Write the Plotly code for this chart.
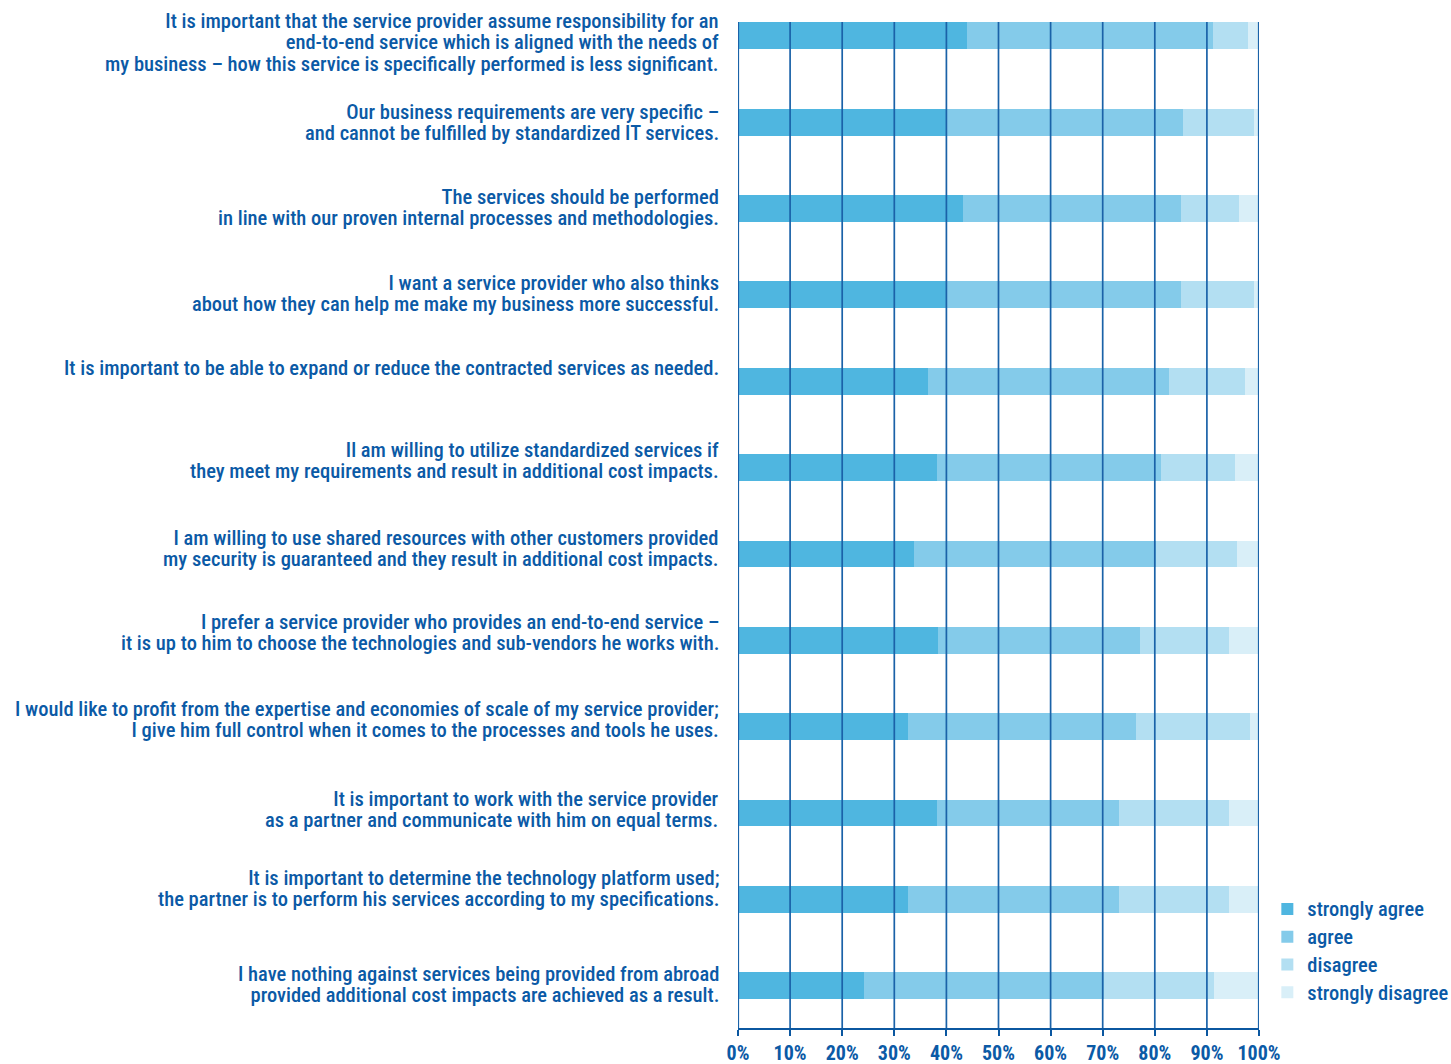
import plotly.graph_objects as go

categories = [
    "It is important that the service provider assume responsibility for an<br>end-to-end service which is aligned with the needs of<br>my business – how this service is specifically performed is less significant.",
    "Our business requirements are very specific –<br>and cannot be fulfilled by standardized IT services.",
    "The services should be performed<br>in line with our proven internal processes and methodologies.",
    "I want a service provider who also thinks<br>about how they can help me make my business more successful.",
    "It is important to be able to expand or reduce the contracted services as needed.",
    "Il am willing to utilize standardized services if<br>they meet my requirements and result in additional cost impacts.",
    "I am willing to use shared resources with other customers provided<br>my security is guaranteed and they result in additional cost impacts.",
    "I prefer a service provider who provides an end-to-end service –<br>it is up to him to choose the technologies and sub-vendors he works with.",
    "I would like to profit from the expertise and economies of scale of my service provider;<br>I give him full control when it comes to the processes and tools he uses.",
    "It is important to work with the service provider<br>as a partner and communicate with him on equal terms.",
    "It is important to determine the technology platform used;<br>the partner is to perform his services according to my specifications.",
    "I have nothing against services being provided from abroad<br>provided additional cost impacts are achieved as a result.",
]

strongly_agree = [43.9, 40.1, 43.2, 40.1, 36.5, 38.2, 33.8, 38.4, 32.6, 38.1, 32.6, 24.1]
agree = [47.3, 45.4, 41.8, 44.9, 46.3, 42.9, 46.5, 38.7, 43.7, 35.1, 40.5, 46.2]
disagree = [6.7, 13.6, 11.2, 14.1, 14.6, 14.2, 15.5, 17.2, 21.9, 21.1, 21.2, 21.1]
strongly_disagree = [2.1, 0.9, 3.8, 0.9, 2.6, 4.7, 4.2, 5.7, 1.8, 5.7, 5.7, 8.6]

series = [
    ("strongly agree", strongly_agree, "#4fb6e0"),
    ("agree", agree, "#84cbea"),
    ("disagree", disagree, "#b3dff2"),
    ("strongly disagree", strongly_disagree, "#d9eff8"),
]

tick_vals = [0, 10, 20, 30, 40, 50, 60, 70, 80, 90, 100]
tick_text = [f"{v}%" for v in tick_vals]

# layout-only: small vertical nudges (px) of each label block relative to its bar
label_nudge = [-7, 0, 1, 1, 13, 7, 5, 8, 7, 3, 11, 1]

TEXT = "#0b5aa6"
GRID = "#1a62a8"
FONT = "Roboto Condensed, DejaVu Sans Condensed, Roboto, sans-serif"
LABEL_PX = 20.5


def tight(label, px=LABEL_PX):
    # larger glyphs inside a smaller base size -> tighter line spacing
    return "<br>".join(f'<span style="font-size:{px}px">{ln}</span>' for ln in label.split("<br>"))


fig = go.Figure()
for name, vals, col in series:
    fig.add_trace(go.Bar(
        y=list(range(len(categories))), x=vals, name=tight(name, 20.5), orientation="h",
        marker=dict(color=col, line=dict(width=0)), width=0.31,
    ))

for v in tick_vals:
    fig.add_shape(type="line", xref="x", yref="paper", x0=v, x1=v, y0=0, y1=1,
                  line=dict(color=GRID, width=2.2 if v in (0, 100) else 1.7), layer="above")

for i, cat in enumerate(categories):
    fig.add_annotation(
        xref="paper", yref="y", x=0, y=i, xanchor="right", yanchor="middle",
        xshift=-17, yshift=label_nudge[i], align="right", showarrow=False,
        text=tight(cat), font=dict(size=16.5, color=TEXT, family=FONT, weight=500),
    )

fig.update_layout(
    barmode="stack",
    width=1451, height=1064,
    margin=dict(l=738, r=192, t=22, b=36, autoexpand=False),
    paper_bgcolor="white", plot_bgcolor="white",
    font=dict(family=FONT, color=TEXT, size=19, weight=500),
    showlegend=True,
    legend=dict(x=1.016, xanchor="left", y=0.137, yanchor="top",
                font=dict(size=19, color=TEXT, family=FONT, weight=500),
                bgcolor="rgba(0,0,0,0)",
                traceorder="normal", itemwidth=30, tracegroupgap=0),
    bargap=0,
)

fig.update_xaxes(
    range=[0, 100], tickvals=tick_vals, ticktext=tick_text,
    showgrid=False, automargin=False,
    showline=True, linecolor="#0b57a0", linewidth=2,
    ticks="outside", ticklen=6, tickcolor="#0b57a0", tickwidth=1.5,
    tickfont=dict(size=20, color=TEXT, family=FONT, weight="bold"),
    zeroline=False,
)
fig.update_yaxes(
    range=[11.49, -0.16], tickvals=list(range(len(categories))),
    showticklabels=False,
    showgrid=False, zeroline=False, showline=False, ticks="", automargin=False,
)

fig.write_html("out.html")
